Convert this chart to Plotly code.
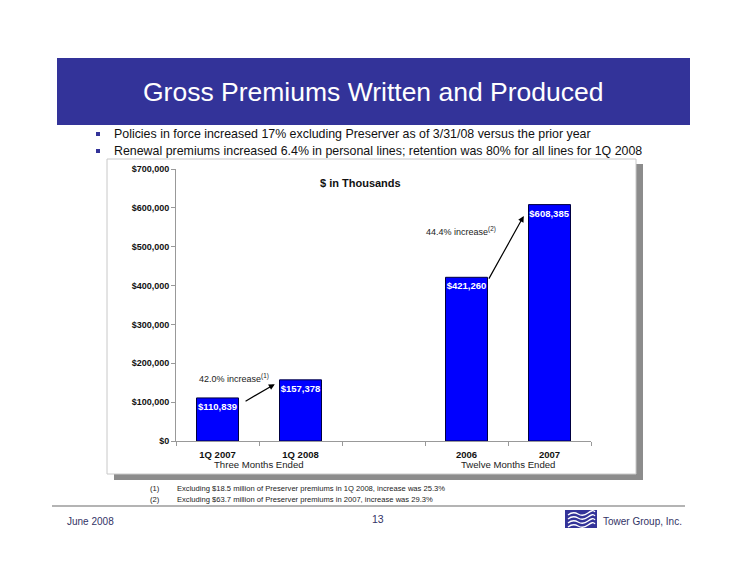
import plotly.graph_objects as go

# ---------------- data ----------------
periods = ["1Q 2007", "1Q 2008", "2006", "2007"]
premiums = [110839, 157378, 421260, 608385]
groups = ["Three Months Ended", "Twelve Months Ended"]
increases = ["42.0% increase<sup>(1)</sup>", "44.4% increase<sup>(2)</sup>"]
bullets = [
    "Policies in force increased 17% excluding Preserver as of 3/31/08 versus the prior year",
    "Renewal premiums increased 6.4% in personal lines; retention was 80% for all lines for 1Q 2008",
]
footnotes = [
    ("(1)", "Excluding $18.5 million of Preserver premiums in 1Q 2008, increase was 25.3%"),
    ("(2)", "Excluding $63.7 million of Preserver premiums in 2007, increase was 29.3%"),
]
title = "Gross Premiums Written and Produced"
subtitle = "$ in Thousands"

# spacer category between the two groups
cats = periods[:2] + [" "] + periods[2:]
vals = premiums[:2] + [None] + premiums[2:]

W, H = 750, 580
FONT = "Arial, Liberation Sans, sans-serif"
NAVY = "#333399"


def px(x):
    return x / W


def py(y):
    return 1 - y / H


def text(t, x, y, size, color="#222222", xanchor="center", xref="paper"):
    return dict(text=t, xref=xref, yref="paper", x=(px(x) if xref == "paper" else x), y=py(y),
                xanchor=xanchor, yanchor="middle", showarrow=False,
                font=dict(family=FONT, size=size, color=color))


fig = go.Figure()
fig.add_trace(go.Bar(
    x=cats, y=vals, width=0.506,
    marker=dict(color="#0000FF", line=dict(color="#000040", width=1)),
    texttemplate="$%{y:,}", textposition="inside", insidetextanchor="end",
    textfont=dict(color="white", size=9.5, family=FONT, weight="bold"),
    textangle=0, hoverinfo="skip",
))

shapes = []
# title banner
shapes.append(dict(type="rect", xref="paper", yref="paper", x0=px(57), x1=px(690), y0=py(125), y1=py(58),
                   fillcolor=NAVY, line=dict(width=0), layer="below"))
# bullet squares
for i in range(len(bullets)):
    yc = 134 + 17 * i
    shapes.append(dict(type="rect", xref="paper", yref="paper", x0=px(96), x1=px(100), y0=py(yc + 2), y1=py(yc - 2),
                       fillcolor=NAVY, line=dict(width=0)))
# chart box shadow
shapes.append(dict(type="rect", xref="paper", yref="paper", x0=px(114), x1=px(643), y0=py(480), y1=py(164),
                   fillcolor="#8c8c8c", line=dict(width=0), layer="below"))
# chart box
shapes.append(dict(type="rect", xref="paper", yref="paper", x0=px(107), x1=px(636), y0=py(474), y1=py(159),
                   fillcolor="white", line=dict(color="#c8c8c8", width=1), layer="below"))
# footer line
shapes.append(dict(type="line", xref="paper", yref="paper", x0=px(52), x1=px(685), y0=py(506), y1=py(506),
                   line=dict(color="#b4b4b4", width=2)))
# logo
shapes.append(dict(type="rect", xref="paper", yref="paper", x0=px(565), x1=px(597), y0=py(528), y1=py(510),
                   fillcolor=NAVY, line=dict(width=0)))
for k in range(4):
    y0 = 513 + 4 * k
    path = "M {},{} Q {},{} {},{} T {},{} T {},{}".format(
        px(568), py(y0 + 2), px(573), py(y0 - 2), px(578), py(y0 + 1),
        px(588), py(y0), px(595), py(y0 - 1))
    shapes.append(dict(type="path", xref="paper", yref="paper", path=path,
                       line=dict(color="white", width=1.3)))

ann = []
ann.append(text(title, 373, 92, 26.5, "white"))
for i, b in enumerate(bullets):
    ann.append(text(b, 112, 134 + 17 * i, 12.4, "#111111", "left"))
ann.append(text("<b>" + subtitle + "</b>", 360, 183, 11, "#111111"))
# group labels (centred between the two bars of each group)
ann.append(text(groups[0], 0.5, 464, 9.6, xref="x"))
ann.append(text(groups[1], 3.5, 464, 9.6, xref="x"))
# increase labels
ann.append(text(increases[0], 197, 378, 9, "#222222", "left"))
ann.append(text(increases[1], 424, 231, 9, "#222222", "left"))
# arrows (in data coordinates, relative to bars)
ann.append(dict(x=0.69, y=premiums[1] * 0.93, ax=0.32, ay=premiums[0] * 0.905,
                xref="x", yref="y", axref="x", ayref="y", text="", showarrow=True,
                arrowhead=2, arrowsize=1, arrowwidth=1.2, arrowcolor="black"))
ann.append(dict(x=3.69, y=premiums[3] * 0.952, ax=3.26, ay=premiums[2] * 0.983,
                xref="x", yref="y", axref="x", ayref="y", text="", showarrow=True,
                arrowhead=2, arrowsize=1, arrowwidth=1.2, arrowcolor="black"))
# footnotes
for i, (n, t) in enumerate(footnotes):
    ann.append(text(n, 148, 488 + 11 * i, 7.6, "#222222", "left"))
    ann.append(text(t, 175, 488 + 11 * i, 7.6, "#222222", "left"))
# footer
ann.append(text("June 2008", 65, 521, 10, "#333366", "left"))
ann.append(text("13", 378, 519, 10.5, "#333366"))
ann.append(text("Tower Group, Inc.", 601, 521, 10, "#333366", "left"))

fig.update_layout(
    width=W, height=H, margin=dict(l=0, r=0, t=0, b=0),
    paper_bgcolor="white", plot_bgcolor="white", showlegend=False,
    font=dict(family=FONT),
    shapes=shapes, annotations=ann,
    uniformtext=dict(minsize=9.5, mode="show"),
    bargap=0.49,
    xaxis=dict(domain=[px(176), px(591)], type="category", categoryorder="array", categoryarray=cats,
               range=[-0.5, 4.5], showline=True, linecolor="#999999", linewidth=1,
               ticks="outside", tickson="boundaries", ticklen=4, tickcolor="#999999",
               ticklabelstandoff=5,
               tickfont=dict(size=9.5, color="#111111", weight="bold"), showgrid=False,
               automargin=False, fixedrange=True),
    yaxis=dict(domain=[py(441), py(169)], range=[0, 700000], dtick=100000, tickformat="$,.0f",
               showline=True, linecolor="#999999", linewidth=1, ticks="outside", ticklen=4,
               tickcolor="#999999", tickfont=dict(size=9, color="#111111", weight="bold"),
               showgrid=False, zeroline=False, automargin=False, fixedrange=True),
)

fig.write_html("out.html", config={"displayModeBar": False},
               post_script="document.body.style.margin='0';document.body.style.padding='0';")
